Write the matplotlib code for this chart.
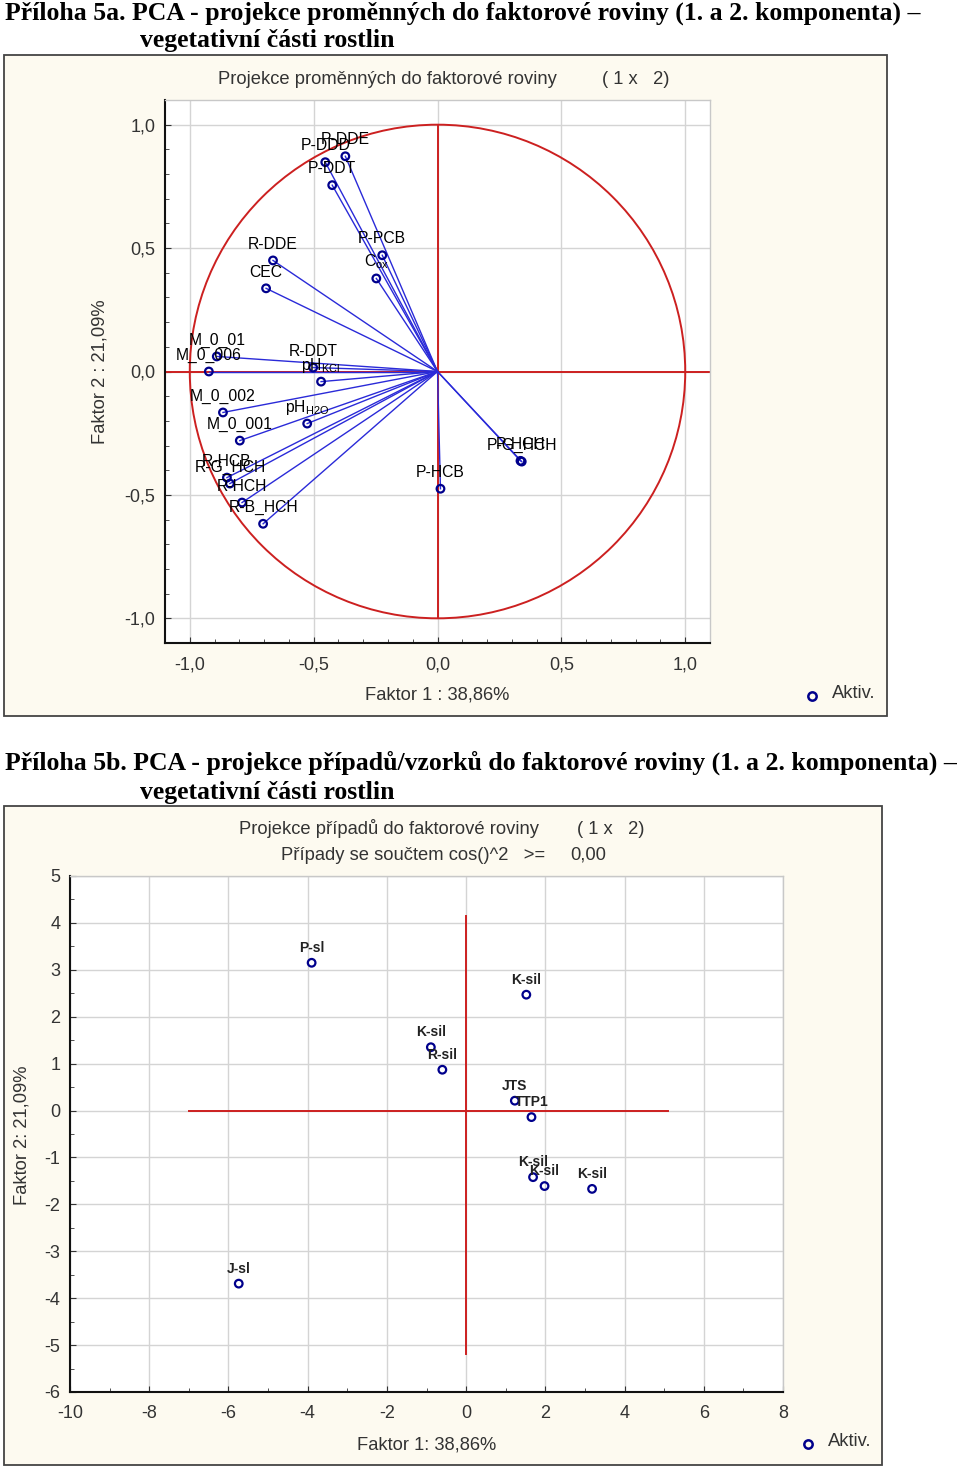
import numpy as np
import matplotlib
matplotlib.use('Agg')
import matplotlib.pyplot as plt
from matplotlib.patches import Rectangle, Circle
from matplotlib.ticker import FuncFormatter, MultipleLocator

# --- data: projection of variables (factor 1 x factor 2)
var_names = ['P-DDE', 'P-DDD', 'P-DDT', 'P-PCB', r'C$_\mathregular{ox}$', 'R-DDE', 'CEC',
             'M_0_01', 'M_0_006', 'R-DDT', r'pH$_\mathregular{KCl}$', 'M_0_002',
             r'pH$_\mathregular{H2O}$', 'M_0_001', 'R-HCB', 'R-G_HCH', 'R-HCH', 'R-B_HCH',
             'P-HCB', 'P-G_HCH', 'P-HCH']
var_f1 = [-0.372, -0.453, -0.425, -0.223, -0.247, -0.664, -0.692,
          -0.891, -0.923, -0.502, -0.470, -0.866,
          -0.526, -0.798, -0.850, -0.838, -0.789, -0.704,
          0.012, 0.340, 0.335]
var_f2 = [0.872, 0.848, 0.755, 0.471, 0.377, 0.450, 0.337,
          0.061, 0.000, 0.016, -0.041, -0.166,
          -0.211, -0.280, -0.430, -0.454, -0.531, -0.617,
          -0.475, -0.365, -0.362]

# --- data: projection of cases
case_names = ['P-sl', 'K-sil', 'K-sil', 'R-sil', 'JTS', 'TTP1', 'K-sil', 'K-sil', 'K-sil', 'J-sl']
case_f1 = [-3.90, 1.52, -0.89, -0.60, 1.23, 1.65, 1.69, 1.98, 3.18, -5.74]
case_f2 = [3.15, 2.47, 1.35, 0.87, 0.21, -0.14, -1.42, -1.61, -1.67, -3.69]

ticks1 = [-1.0, -0.5, 0.0, 0.5, 1.0]
xticks2 = [-10, -8, -6, -4, -2, 0, 2, 4, 6, 8]
yticks2 = [5, 4, 3, 2, 1, 0, -1, -2, -3, -4, -5, -6]
hline2 = (-7.0, 5.1)
vline2 = (-5.2, 4.15)

W, H = 960, 1467
BLUE_L = '#2a2ad8'
BLUE_M = '#00008c'
RED = '#cc2020'
CREAM = '#fdfaf0'
TXT = '#333333'
SANS = 'Liberation Sans'

fig = plt.figure(figsize=(W / 100, H / 100), dpi=100)
fig.patch.set_facecolor('white')


def box(x0, y0, x1, y1):
    return [x0 / W, 1 - y1 / H, (x1 - x0) / W, (y1 - y0) / H]


def ftext(x, y, s, **kw):
    kw.setdefault('family', SANS)
    kw.setdefault('color', TXT)
    return fig.text(x / W, 1 - y / H, s, **kw)


def panel(x0, y0, x1, y1):
    fig.patches.append(Rectangle((x0 / W, 1 - y1 / H), (x1 - x0) / W, (y1 - y0) / H,
                                 transform=fig.transFigure, facecolor=CREAM,
                                 edgecolor='#444444', lw=1.3, zorder=-1))


def style_axes(ax):
    ax.set_zorder(2)
    ax.set_facecolor('white')
    for s in ['left', 'bottom']:
        ax.spines[s].set_color('#111111')
        ax.spines[s].set_linewidth(1.5)
    for s in ['top', 'right']:
        ax.spines[s].set_color('#c8c8c8')
        ax.spines[s].set_linewidth(1.0)
    ax.grid(True, color='#d4d4d4', lw=1.0, zorder=0)
    ax.set_axisbelow(True)
    ax.tick_params(which='both', direction='in', color='#333333', labelcolor=TXT,
                   top=False, right=False)
    ax.tick_params(which='major', length=4, labelsize=13)
    ax.tick_params(which='minor', length=3)
    for lab in ax.get_xticklabels() + ax.get_yticklabels():
        lab.set_family(SANS)


# ---------------- headings
head = dict(family='Liberation Serif', weight='bold', fontsize=18.5, color='black', va='center')
ftext(5, 13, 'Příloha 5a. PCA - projekce proměnných do faktorové roviny (1. a 2. komponenta) –', **head)
ftext(140, 41, 'vegetativní části rostlin', **head)
ftext(5, 763, 'Příloha 5b. PCA - projekce případů/vzorků do faktorové roviny (1. a 2. komponenta) –', **head)
ftext(140, 792, 'vegetativní části rostlin', **head)

# ---------------- chart 1
panel(4, 55, 887, 716)
ax1 = fig.add_axes(box(165, 100, 710, 643))
ax1.set_xlim(-1.1, 1.1)
ax1.set_ylim(-1.1, 1.1)
ax1.set_xticks(ticks1)
ax1.set_yticks(ticks1)
ax1.xaxis.set_minor_locator(MultipleLocator(0.1))
ax1.yaxis.set_minor_locator(MultipleLocator(0.1))
fmt1 = FuncFormatter(lambda v, _: f'{v:.1f}'.replace('.', ','))
ax1.xaxis.set_major_formatter(fmt1)
ax1.yaxis.set_major_formatter(fmt1)
style_axes(ax1)
ax1.tick_params(axis='x', pad=10)
ax1.tick_params(axis='y', pad=7)

ax1.add_patch(Circle((0, 0), 1.0, fill=False, ec=RED, lw=1.4, zorder=2))
ax1.axhline(0, color=RED, lw=1.4, zorder=2)
ax1.plot([0, 0], [-1, 1], color=RED, lw=1.4, zorder=2)
for x, y in zip(var_f1, var_f2):
    ax1.plot([0, x], [0, y], color=BLUE_L, lw=1.0, zorder=3)
ax1.scatter(var_f1, var_f2, s=30, facecolors='none', edgecolors=BLUE_M, linewidths=1.6, zorder=4)
for name, x, y in zip(var_names, var_f1, var_f2):
    ax1.annotate(name, (x, y), xytext=(0, 8.5), textcoords='offset points', ha='center',
                 va='baseline', fontsize=11.3, family=SANS, color='#000000', zorder=5)

ftext(218, 79, 'Projekce proměnných do faktorové roviny', fontsize=13.2, va='center')
ftext(602, 79, '( 1 x   2)', fontsize=13.2, va='center')
ftext(437, 695, 'Faktor 1 : 38,86%', fontsize=13.2, va='center', ha='center')
ftext(100, 372, 'Faktor 2 : 21,09%', fontsize=13.2, va='center', ha='center', rotation=90)
fig.lines.append(plt.Line2D([812 / W], [1 - 696 / H], transform=fig.transFigure, marker='o',
                            ms=6, mfc='none', mec=BLUE_M, mew=1.8, ls='none'))
ftext(832, 694, 'Aktiv.', fontsize=13.2, va='center')

# ---------------- chart 2
panel(4, 806, 882, 1465)
ax2 = fig.add_axes(box(70, 876, 783, 1392))
ax2.set_xlim(-10, 8)
ax2.set_ylim(-6, 5)
ax2.set_xticks(xticks2)
ax2.set_yticks(yticks2)
ax2.xaxis.set_minor_locator(MultipleLocator(1))
ax2.yaxis.set_minor_locator(MultipleLocator(0.5))
fmt2 = FuncFormatter(lambda v, _: f'{v:g}')
ax2.xaxis.set_major_formatter(fmt2)
ax2.yaxis.set_major_formatter(fmt2)
style_axes(ax2)
ax2.tick_params(axis='x', pad=9)
ax2.tick_params(axis='y', pad=7)

ax2.plot(hline2, [0, 0], color=RED, lw=1.4, zorder=2)
ax2.plot([0, 0], vline2, color=RED, lw=1.4, zorder=2)
ax2.scatter(case_f1, case_f2, s=30, facecolors='none', edgecolors=BLUE_M, linewidths=1.6, zorder=4)
for name, x, y in zip(case_names, case_f1, case_f2):
    ax2.annotate(name, (x, y), xytext=(0, 8), textcoords='offset points', ha='center',
                 va='baseline', fontsize=10, weight='bold', family=SANS, color='#222222', zorder=5)

ftext(239, 829, 'Projekce případů do faktorové roviny', fontsize=13.2, va='center')
ftext(577, 829, '( 1 x   2)', fontsize=13.2, va='center')
ftext(281, 855, 'Případy se součtem cos()^2   >=', fontsize=13.2, va='center')
ftext(570, 855, '0,00', fontsize=13.2, va='center')
ftext(427, 1445, 'Faktor 1: 38,86%', fontsize=13.2, va='center', ha='center')
ftext(22, 1135, 'Faktor 2: 21,09%', fontsize=13.2, va='center', ha='center', rotation=90)
fig.lines.append(plt.Line2D([808 / W], [1 - 1444 / H], transform=fig.transFigure, marker='o',
                            ms=6, mfc='none', mec=BLUE_M, mew=1.8, ls='none'))
ftext(828, 1442, 'Aktiv.', fontsize=13.2, va='center')

fig.savefig('out.png', dpi=100, facecolor='white')
